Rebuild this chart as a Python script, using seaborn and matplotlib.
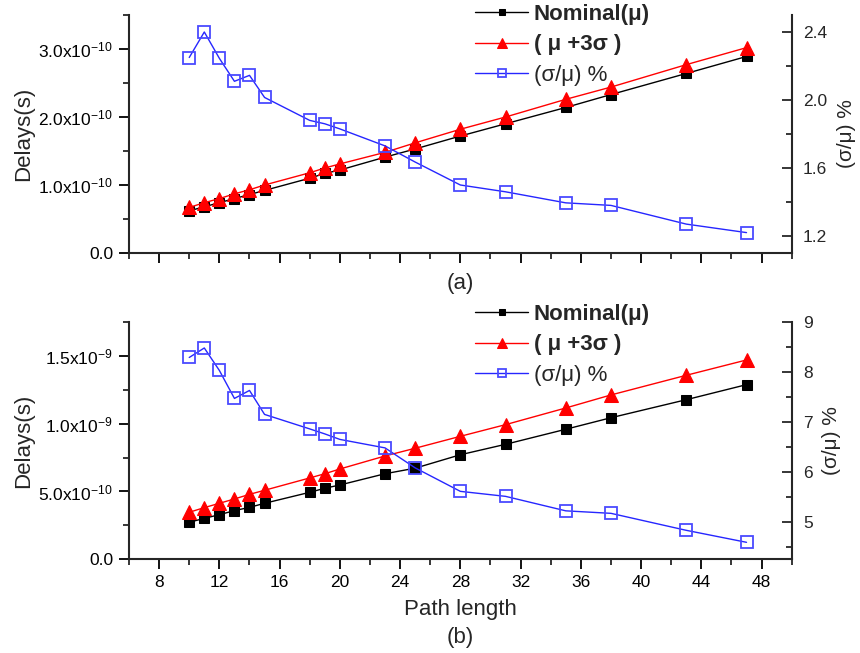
import numpy as np
import matplotlib
matplotlib.use("Agg")
import matplotlib.pyplot as plt
import seaborn as sns
from matplotlib.ticker import FixedLocator, MultipleLocator

# ---------------- data ----------------
path_length = [10, 11, 12, 13, 14, 15, 18, 19, 20, 23, 25, 28, 31, 35, 38, 43, 47]

# panel (a): delays in units of 1e-10 s, ratio in %
a_nominal = [0.62, 0.68, 0.74, 0.80, 0.86, 0.92, 1.10, 1.17, 1.22, 1.41, 1.53,
             1.72, 1.90, 2.14, 2.33, 2.64, 2.89]
a_mu3s = [0.67, 0.74, 0.80, 0.87, 0.93, 1.00, 1.18, 1.25, 1.31, 1.48, 1.62,
          1.82, 2.00, 2.26, 2.44, 2.77, 3.02]
a_ratio = [2.25, 2.40, 2.245, 2.11, 2.145, 2.015, 1.88, 1.86, 1.83, 1.73, 1.635,
           1.50, 1.46, 1.395, 1.38, 1.27, 1.22]

# panel (b): delays in units of 1e-9 s, ratio in %
b_nominal = [0.273, 0.302, 0.329, 0.359, 0.383, 0.413, 0.494, 0.524, 0.548, 0.631,
             0.672, 0.771, 0.848, 0.959, 1.044, 1.177, 1.288]
b_mu3s = [0.347, 0.381, 0.413, 0.445, 0.479, 0.509, 0.600, 0.631, 0.666, 0.762,
          0.819, 0.907, 0.993, 1.116, 1.212, 1.357, 1.470]
b_ratio = [8.29, 8.48, 8.03, 7.47, 7.63, 7.15, 6.86, 6.76, 6.65, 6.48, 6.08,
           5.61, 5.51, 5.22, 5.17, 4.83, 4.59]

series_labels = ["Nominal(μ)", "( μ +3σ )", "(σ/μ) %"]

a_yticks = [0.0, 1.0e-10, 2.0e-10, 3.0e-10]
a_yticklabels = ["0.0", r"1.0x10$^{-10}$", r"2.0x10$^{-10}$", r"3.0x10$^{-10}$"]
a_rticks = [1.2, 1.6, 2.0, 2.4]
a_rticklabels = ["1.2", "1.6", "2.0", "2.4"]

b_yticks = [0.0, 5.0e-10, 1.0e-9, 1.5e-9]
b_yticklabels = ["0.0", r"5.0x10$^{-10}$", r"1.0x10$^{-9}$", r"1.5x10$^{-9}$"]
b_rticks = [5, 6, 7, 8, 9]
b_rticklabels = ["5", "6", "7", "8", "9"]

# ---------------- style ----------------
sns.set_style("ticks")
plt.rcParams["font.family"] = ["Liberation Sans", "DejaVu Sans"]
plt.rcParams["mathtext.fontset"] = "custom"
plt.rcParams["mathtext.rm"] = "Liberation Sans"
plt.rcParams["mathtext.it"] = "Liberation Sans:italic"
plt.rcParams["mathtext.bf"] = "Liberation Sans:bold"
plt.rcParams["axes.linewidth"] = 1.5

BLACK = "#000000"
RED = "#ff0000"
BLUE_LINE = "#2626ff"
BLUE_EDGE = "#4a4aff"

W, H = 860, 653
fig = plt.figure(figsize=(W / 100, H / 100), dpi=100)

L, R = 129, 791.7
ax_a = fig.add_axes([L / W, 1 - 253 / H, (R - L) / W, (253 - 15) / H])
ax_b = fig.add_axes([L / W, 1 - 559.3 / H, (R - L) / W, (559.3 - 322) / H])


def draw_panel(ax, nominal, mu3s, ratio, scale, ylim, yticks, yticklabels, yminor,
               rlim, rticks, rticklabels, rminor, show_x, legend_top_px):
    x = np.array(path_length)
    sns.lineplot(x=x, y=np.array(nominal) * scale, ax=ax, color=BLACK, linewidth=1.0,
                 marker="s", markersize=7.5, markeredgecolor=BLACK, markerfacecolor=BLACK,
                 label=series_labels[0], legend=False, zorder=3)
    sns.lineplot(x=x, y=np.array(mu3s) * scale, ax=ax, color=RED, linewidth=1.0,
                 marker="^", markersize=10.5, markeredgecolor=RED, markerfacecolor=RED,
                 label=series_labels[1], legend=False, zorder=4)
    tw = ax.twinx()
    sns.lineplot(x=x, y=ratio, ax=tw, color=BLUE_LINE, linewidth=1.0,
                 marker="s", markersize=8, markeredgecolor=BLUE_EDGE, markerfacecolor="none",
                 markeredgewidth=1.3, label=series_labels[2], legend=False, zorder=3)

    ax.set_xlim(6, 50)
    ax.set_ylim(*ylim)
    tw.set_ylim(*rlim)

    for a in (ax, tw):
        a.spines["top"].set_visible(False)
        for s in a.spines.values():
            s.set_linewidth(1.5)
    ax.spines["right"].set_visible(False)
    tw.spines["left"].set_visible(False)
    tw.spines["bottom"].set_visible(False)

    ax.xaxis.set_major_locator(MultipleLocator(4))
    ax.xaxis.set_minor_locator(MultipleLocator(2))
    ax.yaxis.set_major_locator(FixedLocator(yticks))
    ax.set_yticklabels(yticklabels)
    ax.yaxis.set_minor_locator(FixedLocator(yminor))
    tw.yaxis.set_major_locator(FixedLocator(rticks))
    tw.set_yticklabels(rticklabels)
    tw.yaxis.set_minor_locator(FixedLocator(rminor))

    ax.tick_params(axis="both", which="major", direction="out", length=7.5, width=1.3,
                   labelsize=12.5, pad=4, colors=BLACK)
    ax.tick_params(axis="both", which="minor", direction="out", length=4, width=1.3)
    ax.tick_params(axis="x", labelbottom=show_x, pad=4)
    ax.tick_params(axis="y", pad=4)
    tw.tick_params(axis="y", which="major", direction="in", length=7.5, width=1.3,
                   labelsize=12.5, pad=8)
    tw.tick_params(axis="y", which="minor", direction="in", length=4, width=1.3)

    ax.set_ylabel("Delays(s)", fontsize=16, labelpad=3)
    tw.set_ylabel("(σ/μ) %", fontsize=15, labelpad=7)
    ax.set_xlabel("")

    handles = ax.get_lines()[:2] + tw.get_lines()[:1]
    leg = tw.legend(handles, series_labels, loc="upper left",
                    bbox_to_anchor=(475 / W, 1 - legend_top_px / H),
                    bbox_transform=fig.transFigure, frameon=False, fontsize=16,
                    borderpad=0, borderaxespad=0, handlelength=2.4, handletextpad=0.25,
                    labelspacing=0.42, markerscale=0.65)
    texts = leg.get_texts()
    texts[0].set_fontweight("bold")
    texts[1].set_fontweight("bold")
    return tw


draw_panel(ax_a, a_nominal, a_mu3s, a_ratio, 1e-10, (0, 3.5e-10), a_yticks, a_yticklabels,
           [0.5e-10, 1.5e-10, 2.5e-10, 3.5e-10], (1.1, 2.5), a_rticks, a_rticklabels,
           [1.4, 1.8, 2.2], False, 4)
draw_panel(ax_b, b_nominal, b_mu3s, b_ratio, 1e-9, (0, 1.75e-9), b_yticks, b_yticklabels,
           [0.25e-9, 0.75e-9, 1.25e-9, 1.75e-9], (4.25, 9.0), b_rticks, b_rticklabels,
           [4.5, 5.5, 6.5, 7.5, 8.5], True, 304)

ax_b.set_xlabel("Path length", fontsize=16, labelpad=6)
fig.text((L + R) / 2 / W, 1 - 284 / H, "(a)", ha="center", va="center", fontsize=16)
fig.text((L + R) / 2 / W, 1 - 638 / H, "(b)", ha="center", va="center", fontsize=16)

fig.savefig("out.png", dpi=100)
